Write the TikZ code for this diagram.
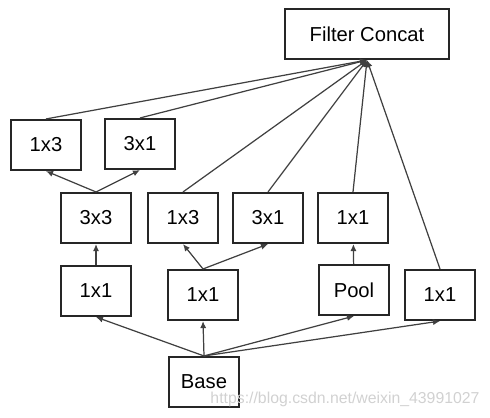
\documentclass[tikz,border=0pt]{standalone}
\usepackage{fontspec}
\setmainfont{Liberation Sans}
\usetikzlibrary{arrows.meta}

\begin{document}
\begin{tikzpicture}[x=0.02cm, y=-0.02cm, >={Latex[length=4pt,width=3.5pt]},
  box/.style={draw=black!85, line width=1.2pt, minimum width=1.4cm, minimum height=1cm,
    inner sep=0pt, font=\fontsize{11.5}{13}\selectfont},
  link/.style={->, draw=black!75, line width=0.7pt}]
  \useasboundingbox (0,0) rectangle (490,417);
  % Nodes
  \node[box, minimum width=3.28cm] (concat) at (367,34) {Filter Concat};
  \node[box] (top13) at (46,145) {1x3};
  \node[box] (top31) at (140,144) {3x1};
  \node[box] (mid33) at (96,218) {3x3};
  \node[box] (mid13) at (183,218) {1x3};
  \node[box] (mid31) at (268,218) {3x1};
  \node[box] (mid11) at (353,218) {1x1};
  \node[box] (low11a) at (96,291) {1x1};
  \node[box] (low11b) at (203,295) {1x1};
  \node[box] (pool) at (354,290) {Pool};
  \node[box] (low11c) at (440,295) {1x1};
  \node[box] (base) at (204,382) {Base};

  % Arrows
  \draw[link] (base.north) -- (low11a.south);
  \draw[link] (base.north) -- (low11b.south);
  \draw[link] (base.north) -- (pool.south);
  \draw[link] (base.north) -- (low11c.south);
  \draw[link] (low11a) -- (mid33);
  \draw[link] (low11b.north) -- (mid13.south);
  \draw[link] (low11b.north) -- (mid31.south);
  \draw[link] (pool) -- (mid11);
  \draw[link] (mid33.north) -- (top13.south);
  \draw[link] (mid33.north) -- (top31.south);
  \foreach \src in {top13, top31, mid13, mid31, mid11, low11c}
    \draw[link] (\src.north) -- (concat.south);

  % Watermark
  \node[text=black!18, font=\fontsize{9}{10}\selectfont] (mark) at (345,399)
    {https://blog.csdn.net/weixin\_43991027};
\end{tikzpicture}
\end{document}
